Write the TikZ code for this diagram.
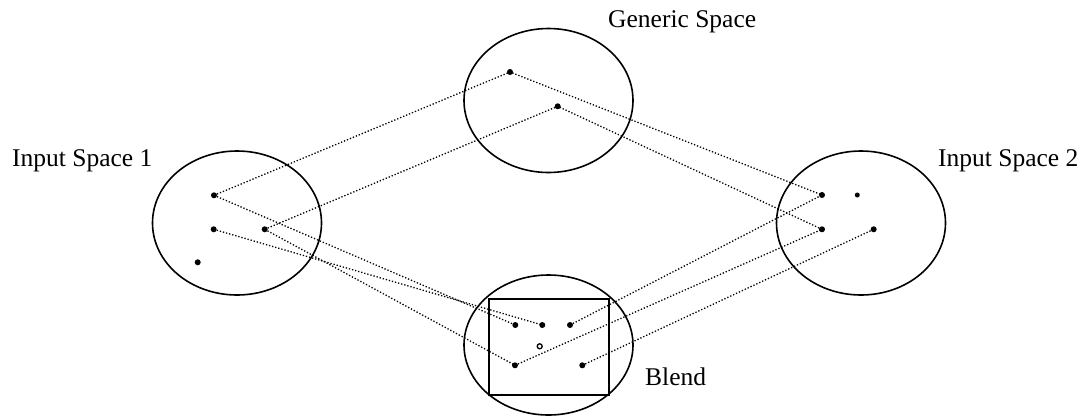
\documentclass[tikz,border=0pt]{standalone}
\usepackage{fontspec}
\setmainfont{Liberation Serif}
\usetikzlibrary{shapes.geometric}
\begin{document}
\begin{tikzpicture}[x=1pt,y=-1pt,
  space/.style={draw,ellipse,line width=1.6pt,inner sep=0pt,minimum width=169pt,minimum height=144pt},
  pt/.style={circle,fill,inner sep=0pt,minimum size=6pt},
  spt/.style={circle,fill,inner sep=0pt,minimum size=5pt},
  opt/.style={circle,draw,line width=1.3pt,inner sep=0pt,minimum size=5pt},
  link/.style={line width=1.3pt,dash pattern=on 1.3pt off 1.9pt},
  lbl/.style={font=\fontsize{25.5}{30}\selectfont,inner sep=0pt,anchor=base west}]
\useasboundingbox (0,0) rectangle (1088,416);
% spaces
\node[space] (gen) at (548.5,100.5) {};
\node[space] (in1) at (237,223) {};
\node[space] (in2) at (861,223) {};
\node[space,minimum height=140pt] (bl) at (548.5,345) {};
\node[draw,line width=2pt,inner sep=0pt,minimum width=119.7pt,minimum height=95.4pt] (box) at (549.1,347) {};
% labels
\node[lbl] (lgen) at (608,27) {Generic Space};
\node[lbl] (lin1) at (12,166) {Input Space 1};
\node[lbl] (lin2) at (938,166) {Input Space 2};
\node[lbl] (lbl) at (645,385) {Blend};
% points
\node[pt] (g1) at (510,72) {};
\node[pt] (g2) at (557.7,106.3) {};
\node[pt] (a1) at (214,195.3) {};
\node[pt] (a2) at (213.7,229.3) {};
\node[pt] (a3) at (264.7,229.3) {};
\node[pt] (a4) at (197.7,262.3) {};
\node[pt] (c1) at (822,195) {};
\node[spt] (c2) at (857.3,195) {};
\node[pt] (c3) at (822,229.3) {};
\node[pt] (c4) at (873.7,229.3) {};
\node[pt] (b1) at (515.3,325) {};
\node[pt] (b2) at (542.3,325) {};
\node[pt] (b3) at (570,325) {};
\node[opt] (bo) at (539.7,346.3) {};
\node[pt] (b4) at (515,365.3) {};
\node[pt] (b5) at (582.3,365.3) {};
% links
\draw[link] (a1.center) -- (g1.center) -- (c1.center);
\draw[link] (a3.center) -- (g2.center) -- (c3.center);
\draw[link] (a1.center) -- (b1.center);
\draw[link] (a2.center) -- (b2.center);
\draw[link] (a3.center) -- (b4.center);
\draw[link] (b3.center) -- (c1.center);
\draw[link] (b4.center) -- (c3.center);
\draw[link] (b5.center) -- (c4.center);
\end{tikzpicture}
\end{document}
